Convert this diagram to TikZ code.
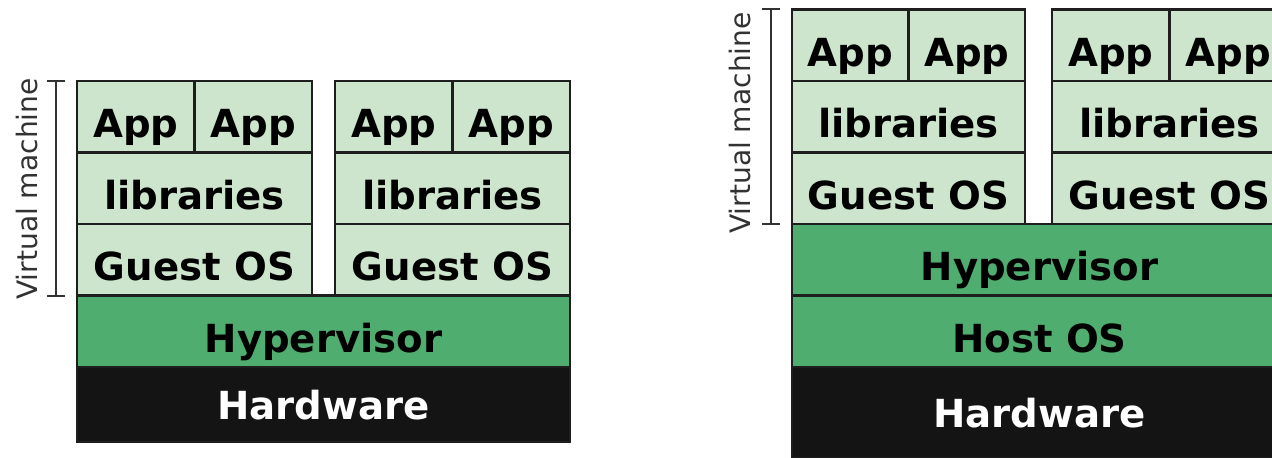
\documentclass[tikz,border=0pt]{standalone}
\usepackage{fontspec}
\setmainfont{DejaVu Sans}
\usepackage{xcolor}
\usepackage{tikz}
\usetikzlibrary{arrows.meta, positioning}
\definecolor{vmgreen}{RGB}{205,229,205}
\definecolor{hvgreen}{RGB}{80,173,112}
\definecolor{hwblack}{RGB}{20,20,20}
\definecolor{edgegray}{RGB}{30,30,30}
\definecolor{bargray}{RGB}{50,50,50}

\begin{document}
\begin{tikzpicture}[
  cell/.style={rectangle, draw=edgegray, line width=1.6pt, inner sep=0pt, minimum height=1.43cm,
    font=\fontsize{22pt}{24pt}\selectfont\bfseries, text height=24pt, text depth=0pt},
  guest/.style={cell, fill=vmgreen},
  hyp/.style={cell, fill=hvgreen},
  hw/.style={cell, fill=hwblack, text=white, text height=17pt},
  vmtext/.style={font=\fontsize{16pt}{18pt}\selectfont, text=bargray, inner sep=0pt},
  vmbar/.style={{Bar[width=0.36cm]}-{Bar[width=0.36cm]}, line width=1.1pt, draw=bargray}
]
\useasboundingbox (0,0) rectangle (25.44,9.16);
\clip (0,0) rectangle (25.44,9.16);

% Left stack: type 1 (bare metal)
% VM 1
\node[guest, minimum width=2.35cm] (lapp11) at (2.715, 6.825) {App};
\node[guest, minimum width=2.35cm] (lapp12) at (5.065, 6.825) {App};
\node[guest, minimum width=4.70cm] (llib1)  at (3.89,  5.395) {libraries};
\node[guest, minimum width=4.70cm] (lgos1)  at (3.89,  3.965) {Guest OS};
% VM 2
\node[guest, minimum width=2.35cm] (lapp21) at (7.875, 6.825) {App};
\node[guest, minimum width=2.35cm] (lapp22) at (10.225,6.825) {App};
\node[guest, minimum width=4.70cm] (llib2)  at (9.05,  5.395) {libraries};
\node[guest, minimum width=4.70cm] (lgos2)  at (9.05,  3.965) {Guest OS};
% base layers
\node[hyp, minimum width=9.86cm] (lhyp) at (6.47, 2.535) {Hypervisor};
\node[hw,  minimum width=9.86cm, minimum height=1.5cm] (lhw) at (6.47, 1.07) {Hardware};

% Right stack: type 2 (hosted), runs off the right edge
% VM 1
\node[guest, minimum width=2.33cm] (rapp11) at (17.005, 8.255) {App};
\node[guest, minimum width=2.33cm] (rapp12) at (19.335, 8.255) {App};
\node[guest, minimum width=4.66cm] (rlib1)  at (18.17,  6.825) {libraries};
\node[guest, minimum width=4.66cm] (rgos1)  at (18.17,  5.395) {Guest OS};
% VM 2
\node[guest, minimum width=2.35cm] (rapp21) at (22.215, 8.255) {App};
\node[guest, minimum width=2.35cm] (rapp22) at (24.565, 8.255) {App};
\node[guest, minimum width=4.70cm] (rlib2)  at (23.39,  6.825) {libraries};
\node[guest, minimum width=4.70cm] (rgos2)  at (23.39,  5.395) {Guest OS};
% base layers
\node[hyp, minimum width=9.90cm] (rhyp)  at (20.79, 3.965) {Hypervisor};
\node[hyp, minimum width=9.90cm] (rhost) at (20.79, 2.535) {Host OS};
\node[hw,  minimum width=9.90cm, minimum height=1.82cm] (rhw) at (20.79, 0.91) {Hardware};

% "Virtual machine" brackets
\coordinate (lbar) at (1.12, 0);
\coordinate (rbar) at (15.42, 0);
\draw[vmbar] (lbar |- lapp11.north) -- (lbar |- lgos1.south);
\draw[vmbar] (rbar |- rapp11.north) -- (rbar |- rgos1.south);
\node[vmtext, rotate=90] (lvmlabel) at (0.54, 5.38) {Virtual machine};
\node[vmtext, rotate=90] (rvmlabel) at (14.80, 6.70) {Virtual machine};
\end{tikzpicture}
\end{document}
